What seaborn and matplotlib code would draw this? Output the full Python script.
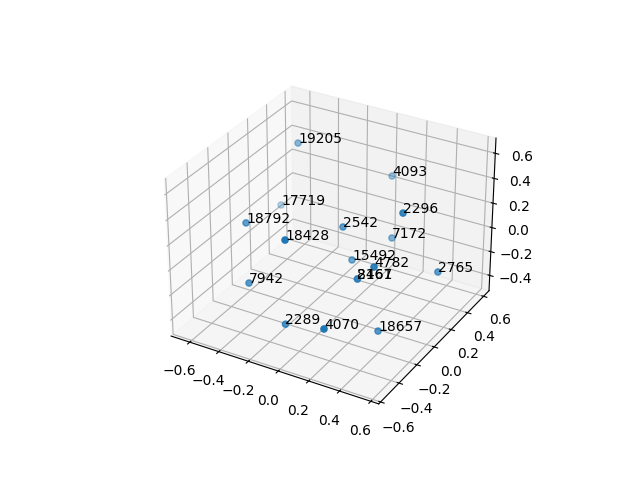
import numpy as np
import matplotlib
matplotlib.use("Agg")
import matplotlib.pyplot as plt
import seaborn as sns

labels = ["19205", "4093", "17719", "2296", "18792", "2542", "18428", "7172", "15492",
          "4782", "2765", "8467", "2161", "7942", "2289", "4070", "18657"]
xs = [-0.474, 0.020, -0.586, 0.362, -0.502, -0.013, -0.122, 0.169, 0.047,
      0.311, 0.536, 0.100, 0.100, -0.382, -0.117, 0.193, 0.339]
ys = [0.340, 0.588, 0.320, 0.120, -0.171, 0.090, -0.347, 0.338, 0.092,
      -0.108, 0.231, 0.066, 0.066, -0.330, -0.362, -0.447, -0.102]
zs = [0.521, 0.264, -0.012, 0.367, 0.178, 0.147, 0.286, -0.039, -0.102,
      0.069, -0.117, -0.222, -0.222, -0.163, -0.379, -0.238, -0.446]

color = sns.color_palette("tab10")[0]

fig = plt.figure(figsize=(6.4, 4.8))
ax = fig.add_subplot(projection="3d")
ax.scatter(xs, ys, zs, color=color)
for label, x, y, z in zip(labels, xs, ys, zs):
    ax.text(x, y, z, label)

ax.set_xlim(-0.73, 0.65)
ax.set_ylim(-0.62, 0.67)
ax.set_zlim(-0.53, 0.72)

fig.savefig("out.png", dpi=100)
